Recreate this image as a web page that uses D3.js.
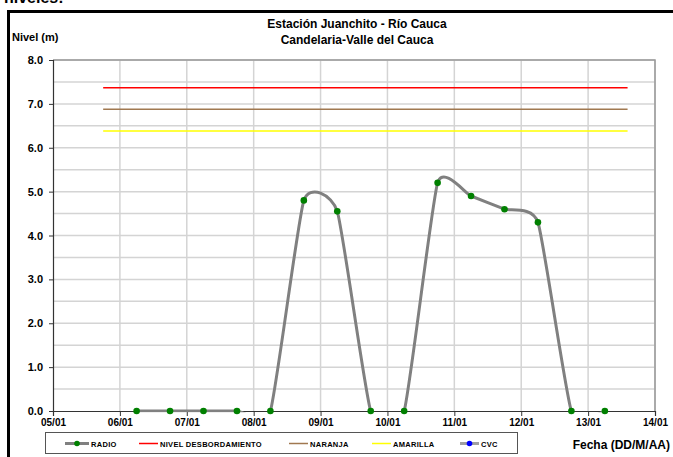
<!DOCTYPE html>
<html><head><meta charset="utf-8">
<script src="https://cdn.jsdelivr.net/npm/d3@7"></script>
<style>body{margin:0;background:#fff}svg{display:block;font-family:"Liberation Sans",Arial,sans-serif}</style>
</head><body>
<script>
// ---- data ----
const xTickDays = [5,6,7,8,9,10,11,12,13,14];
const xTickLabels = ["05/01","06/01","07/01","08/01","09/01","10/01","11/01","12/01","13/01","14/01"];
const yTicks = [0,1,2,3,4,5,6,7,8];
const radioDays = [6.25,6.75,7.25,7.75,8.25,8.75,9.25,9.75,10.25,10.75,11.25,11.75,12.25,12.75,13.25];
const radioValues = [0,0,0,0,0,4.8,4.55,0,0,5.2,4.9,4.6,4.3,0,0];
const cvcDays = [];
const cvcValues = [];
const levelNames = ["NIVEL DESBORDAMIENTO","NARANJA","AMARILLA"];
const levelValues = [7.37,6.88,6.38];
const levelColors = ["#ff0000","#a07850","#ffff00"];
const levelStart = 5.75, levelEnd = 13.59;

const W=673,H=457;
const svg=d3.select("body").append("svg").attr("width",W).attr("height",H);
const L=53,R=655,T=60,B=411;
const x=d3.scaleLinear().domain([5,14]).range([L,R]);
const y=d3.scaleLinear().domain([0,8]).range([B,T]);

// paragraph remnant + frame
svg.append("text").attr("x",4).attr("y",3).attr("font-size",16).attr("font-weight","bold").text("niveles:");
svg.append("rect").attr("x",8.5).attr("y",11.5).attr("width",700).attr("height",500).attr("fill","#fff").attr("stroke","#000").attr("stroke-width",3);

// titles
svg.append("text").attr("x",357).attr("y",28).attr("text-anchor","middle").attr("font-size",12).attr("font-weight","bold").text("Estación Juanchito - Río Cauca");
svg.append("text").attr("x",357).attr("y",44).attr("text-anchor","middle").attr("font-size",12).attr("font-weight","bold").text("Candelaria-Valle del Cauca");
svg.append("text").attr("x",12).attr("y",41).attr("font-size",11).attr("font-weight","bold").text("Nivel (m)");

// grid
const g=svg.append("g");
g.selectAll(".hg").data(d3.range(0.5,8.01,0.5)).join("line")
 .attr("x1",L).attr("x2",R).attr("y1",d=>y(d)).attr("y2",d=>y(d)).attr("stroke","#d4d4d4").attr("stroke-width",1.5);
g.selectAll(".vg").data(xTickDays.slice(1)).join("line")
 .attr("x1",d=>x(d)).attr("x2",d=>x(d)).attr("y1",T).attr("y2",B).attr("stroke","#d4d4d4").attr("stroke-width",1.5);
// plot border top/right
svg.append("path").attr("d",`M${L},${T}H${R}V${B}`).attr("fill","none").attr("stroke","#999").attr("stroke-width",1.5);

// level lines
svg.selectAll(".lvl").data(levelValues).join("line")
 .attr("x1",x(levelStart)).attr("x2",x(levelEnd)).attr("y1",d=>y(d)).attr("y2",d=>y(d))
 .attr("stroke",(d,i)=>levelColors[i]).attr("stroke-width",1.5);

// axes
const yAxis=d3.axisLeft(y).tickValues(yTicks).tickFormat(d3.format(".1f")).tickSize(4).tickPadding(6);
const ya=svg.append("g").attr("transform",`translate(${L},0)`).call(yAxis);
ya.selectAll("text").attr("font-size",11).attr("font-weight","bold").attr("fill","#000").attr("font-family","Liberation Sans, Arial");
ya.select(".domain").attr("stroke","#333").attr("stroke-width",1.2);
ya.selectAll(".tick line").attr("stroke","#333");
const xAxis=d3.axisBottom(x).tickValues(xTickDays).tickFormat((d,i)=>xTickLabels[i]).tickSize(5).tickPadding(3);
const xa=svg.append("g").attr("transform",`translate(0,${B})`).call(xAxis);
xa.selectAll("text").attr("font-size",10).attr("font-weight","bold").attr("fill","#000").attr("font-family","Liberation Sans, Arial");
xa.select(".domain").attr("stroke","#333").attr("stroke-width",1.2);
xa.selectAll(".tick line").attr("stroke","#333");

// radio series
svg.append("clipPath").attr("id","clip").append("rect").attr("x",L).attr("y",T).attr("width",R-L).attr("height",B-T+1.2);
const pts=radioDays.map((d,i)=>[d,radioValues[i]]);
const line=d3.line().x(d=>x(d[0])).y(d=>y(d[1])).curve(d3.curveCardinal.tension(0.5));
svg.append("path").attr("clip-path","url(#clip)").attr("d",line(pts)).attr("fill","none").attr("stroke","#808080").attr("stroke-width",3);
svg.selectAll(".mk").data(pts).join("circle").attr("cx",d=>x(d[0])).attr("cy",d=>y(d[1])).attr("r",3.3).attr("fill","#008000");
svg.selectAll(".cv").data(cvcDays.map((d,i)=>[d,cvcValues[i]])).join("circle").attr("cx",d=>x(d[0])).attr("cy",d=>y(d[1])).attr("r",3.3).attr("fill","#0000ff");

// legend
svg.append("rect").attr("x",45.5).attr("y",432.5).attr("width",472).attr("height",21).attr("fill","#fff").attr("stroke","#555").attr("stroke-width",1);
const legItems=[
 {name:"RADIO",color:"#808080",dot:"#008000",x0:65,x1:89,tx:91},
 {name:levelNames[0],color:levelColors[0],dot:null,x0:139,x1:158,tx:160},
 {name:levelNames[1],color:levelColors[1],dot:null,x0:289,x1:308,tx:310},
 {name:levelNames[2],color:levelColors[2],dot:null,x0:372,x1:391,tx:393},
 {name:"CVC",color:"#a0a0a0",dot:"#0000ff",x0:460,x1:479,tx:481}
];
const ly=443.5;
legItems.forEach(it=>{
  svg.append("line").attr("x1",it.x0).attr("x2",it.x1).attr("y1",ly).attr("y2",ly).attr("stroke",it.color).attr("stroke-width",it.dot?3:1.5);
  if(it.dot) svg.append("circle").attr("cx",(it.x0+it.x1)/2).attr("cy",ly).attr("r",2.8).attr("fill",it.dot);
  svg.append("text").attr("x",it.tx).attr("y",ly+3).attr("font-size",7.5).attr("font-weight","bold").attr("letter-spacing",0.3).text(it.name);
});
svg.append("text").attr("x",670).attr("y",449).attr("text-anchor","end").attr("font-size",12).attr("font-weight","bold").text("Fecha (DD/M/AA)");
</script>
</body></html>
